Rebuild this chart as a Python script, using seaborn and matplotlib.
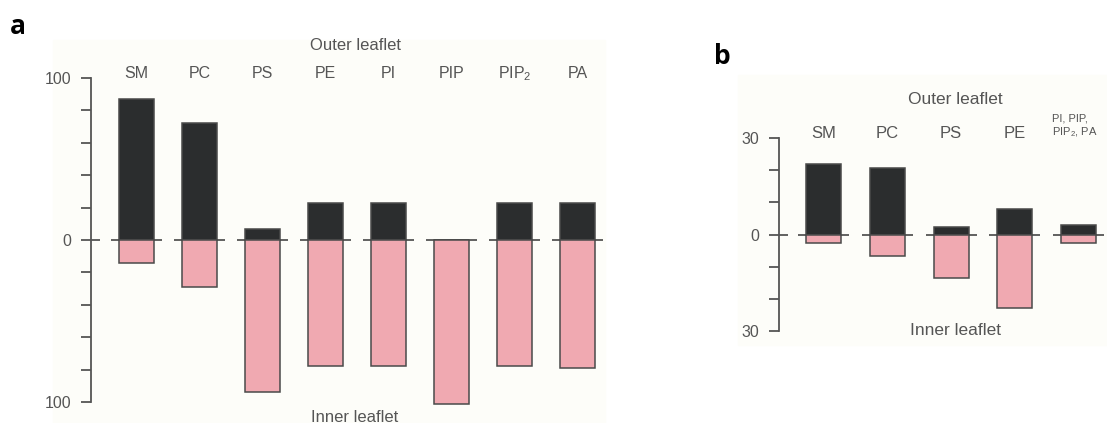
import numpy as np
import pandas as pd
import matplotlib
matplotlib.use("Agg")
import matplotlib.pyplot as plt
import seaborn as sns
from matplotlib.patches import Rectangle

# ---- data ----
cats_a = ["SM", "PC", "PS", "PE", "PI", "PIP", "PIP$_\\mathregular{2}$", "PA"]
outer_a = [87, 72, 7, 23, 23, 0, 23, 23]
inner_a = [-14, -29, -94, -78, -78, -101, -78, -79]

cats_b = ["SM", "PC", "PS", "PE", "PI, PIP,\nPIP$_\\mathregular{2}$, PA"]
outer_b = [21.9, 20.6, 2.2, 7.9, 2.9]
inner_b = [-2.6, -6.7, -13.5, -22.7, -2.6]

yticks_a = [-100, 0, 100]
yticklabels_a = ["100", "0", "100"]
yticks_b = [-30, 0, 30]
yticklabels_b = ["30", "0", "30"]

# ---- style ----
sns.set_style("ticks")
plt.rcParams["font.family"] = ["Liberation Sans", "DejaVu Sans"]
plt.rcParams["mathtext.fontset"] = "custom"
plt.rcParams["mathtext.rm"] = "Liberation Sans"
plt.rcParams["mathtext.it"] = "Liberation Sans"

DARK = "#2b2d2e"
PINK = "#f0a9b1"
EDGE = "#4a4a4a"
GREY = "#555555"
CREAM = "#fdfdf9"

W, H = 1107, 423
fig = plt.figure(figsize=(W / 100, H / 100), dpi=100)
fig.patch.set_facecolor("white")

# subtle cream panels (behind everything)
fig.add_artist(Rectangle((53 / W, 0), (605 - 53) / W, (423 - 40) / H,
                         transform=fig.transFigure, color=CREAM, zorder=-10))
fig.add_artist(Rectangle((738 / W, (423 - 345) / H), (W - 738) / W, (345 - 75) / H,
                         transform=fig.transFigure, color=CREAM, zorder=-10))


def px_axes(left, right, top, bottom):
    ax = fig.add_axes([left / W, (H - bottom) / H, (right - left) / W, (bottom - top) / H])
    ax.set_zorder(1)
    return ax


def draw_panel(ax, cats, outer, inner, spacing_px, axis_px, first_px, right_px,
               ylim, yticks, yticklabels, minor_step, barw):
    n = len(cats)
    df_o = pd.DataFrame({"cat": [str(i) for i in range(n)], "v": outer})
    df_i = pd.DataFrame({"cat": [str(i) for i in range(n)], "v": inner})
    sns.barplot(data=df_o, x="cat", y="v", color=DARK, saturation=1, width=barw,
                edgecolor=EDGE, linewidth=1.1, ax=ax, zorder=2)
    sns.barplot(data=df_i, x="cat", y="v", color=PINK, saturation=1, width=barw,
                edgecolor=EDGE, linewidth=1.1, ax=ax, zorder=2)
    for p in ax.patches:
        p.set_clip_on(False)
    ax.set_facecolor("none")
    xl = -(first_px - axis_px) / spacing_px
    xr = (right_px - first_px) / spacing_px
    ax.set_xlim(xl, xr)
    ax.set_ylim(*ylim)
    # zero line: one segment around each bar plus a stub at the axis
    xs = np.arange(n)
    half = barw / 2 + 8 / spacing_px
    ax.hlines(np.zeros(n), xs - half, xs + half, color=GREY, lw=1.3, zorder=1)
    ax.hlines(0, xl, xl + 9 / spacing_px, color=GREY, lw=1.3, zorder=1)
    # axes styling
    sns.despine(ax=ax, top=True, right=True, bottom=True)
    ax.spines["left"].set_color(GREY)
    ax.spines["left"].set_linewidth(1.3)
    ax.set_xticks([])
    ax.set_xlabel("")
    ax.set_ylabel("")
    ax.set_yticks(yticks)
    ax.set_yticklabels(yticklabels)
    ax.set_yticks(np.arange(ylim[0], ylim[1] + 0.1, minor_step), minor=True)
    ax.tick_params(axis="y", which="both", length=10.5 * 0.72, width=1.3,
                   color=GREY, labelcolor=GREY, labelsize=11.5, pad=6.5)
    return xs


# ---- panel a ----
axa = px_axes(91, 605, 78, 402)
xs_a = draw_panel(axa, cats_a, outer_a, inner_a, 63.0, 91, 136.5, 605,
                  (-100, 100), yticks_a, yticklabels_a, 20, 0.55)
for x, c in zip(xs_a, cats_a):
    axa.text(x, 1.0, c, transform=axa.get_xaxis_transform(), ha="center",
             va="baseline", fontsize=11.5, color=GREY)
fig.text(355 / W, 1 - 45 / H, "Outer leaflet", ha="center", va="center",
         fontsize=12, color=GREY)
fig.text(355 / W, 1 - 417 / H, "Inner leaflet", ha="center", va="center",
         fontsize=12, color=GREY)
fig.text(10 / W, 1 - 26 / H, "a", ha="left", va="center", fontsize=19,
         fontweight="bold", family=["Open Sans", "DejaVu Sans"], color="black")

# ---- panel b ----
axb = px_axes(779, W, 138, 331)
xs_b = draw_panel(axb, cats_b, outer_b, inner_b, 63.7, 779, 823.7, W,
                  (-30, 30), yticks_b, yticklabels_b, 10, 0.55)
for x, c in zip(xs_b[:-1], cats_b[:-1]):
    axb.text(x, 1.0, c, transform=axb.get_xaxis_transform(), ha="center",
             va="baseline", fontsize=12, color=GREY)
axb.text(xs_b[-1] - 0.42, 1.06, cats_b[-1], transform=axb.get_xaxis_transform(),
         ha="left", va="center", fontsize=8, color=GREY, linespacing=1.15)
fig.text(955 / W, 1 - 100 / H, "Outer leaflet", ha="center", va="center",
         fontsize=12.5, color=GREY)
fig.text(955 / W, 1 - 330 / H, "Inner leaflet", ha="center", va="center",
         fontsize=12.5, color=GREY)
fig.text(714 / W, 1 - 56 / H, "b", ha="left", va="center", fontsize=19,
         fontweight="bold", family=["Open Sans", "DejaVu Sans"], color="black")

fig.savefig("out.png", dpi=100)
